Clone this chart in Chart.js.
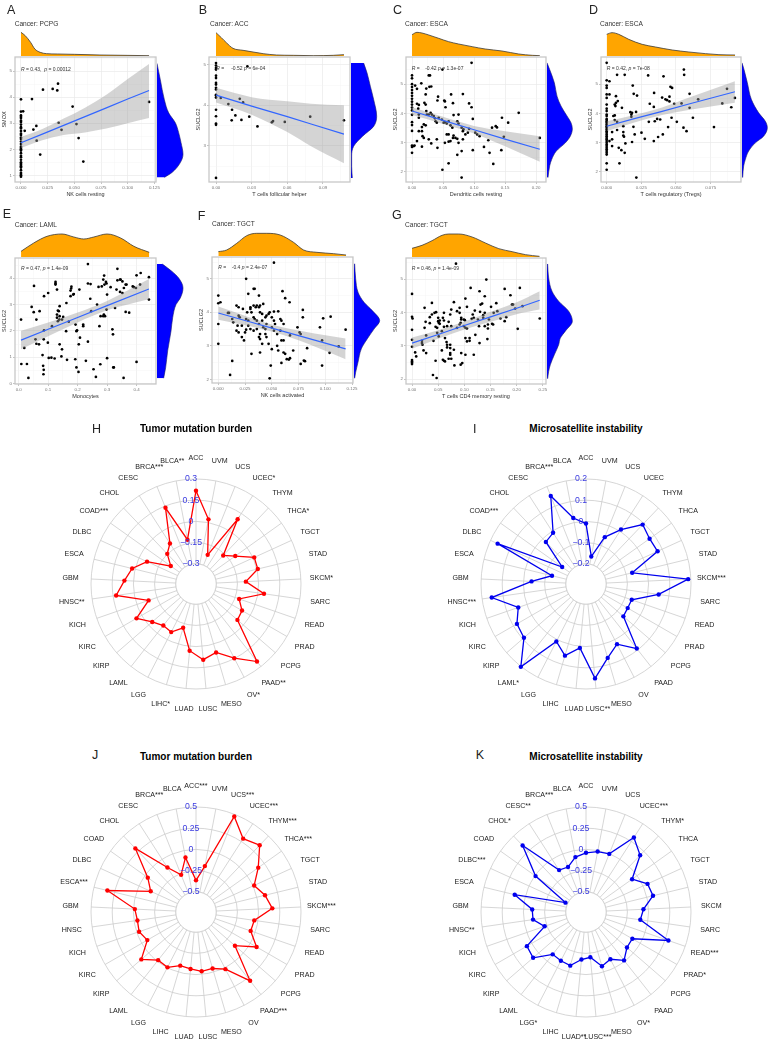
<!DOCTYPE html>
<html><head><meta charset="utf-8">
<script src="https://cdn.jsdelivr.net/npm/chart.js@4/dist/chart.umd.min.js"></script>
<style>
html,body{margin:0;padding:0;background:#fff;overflow:hidden;width:771px;height:1051px}
#page{position:relative;width:771px;height:1051px;overflow:hidden;font-family:"Liberation Sans",Arial,sans-serif}
#page canvas{position:absolute}
.t{position:absolute;white-space:pre;transform:translateY(-50%);z-index:5}
</style></head><body><div id="page"></div>
<script>
/* ---------- scatter data ---------- */
const A_x=[0,0,0,0,0,0,0,0,0,0,0,0,0,0,0,0,0,0,0,0,0,0,0,0,0,0,0,0,0,0,0,0,0,0,0,.002,.0035,.0103,.0116,.0144,.0147,.018,.0206,.0297,.034,.0347,.0353,.038,.0484,.052,.054,.0584,.12];
const A_y=[.95,1,1.05,1.1,1.2,1.3,1.35,1.4,1.45,1.5,1.6,1.7,1.75,1.85,1.95,2,2.05,2.1,2.2,2.3,2.4,2.45,2.55,2.6,2.7,2.8,2.85,2.95,3.05,3.1,3.2,3.25,3.3,3.45,3.92,3.46,2.71,3.93,2.76,2.9,2.33,1.8,4.29,4.32,4.26,4.52,3.02,2.75,3.64,2.97,2.43,1.53,3.82];
const A_bx=[0,.02,.04,.06,.08,.1,.12],A_fit=[2.25,2.585,2.92,3.255,3.59,3.93,4.26],A_up=[2.47,2.78,3.18,3.6,4.1,4.7,5.28],A_lo=[2.05,2.35,2.55,2.65,2.8,3,3.2];
const A_topX=[0,.004,.009,.013,.018,.024,.034,.05,.074,.12],A_topD=[71,61,41,21,11,7,6,5,3,1];
const A_rY=[5.3,4.67,3.91,3.4,3.02,2.64,2.26,1.81,1.49,1.11,.92],A_rD=[0,10,22,35,55,65,72,78,70,45,22];

const B_x=[0,0,0,0,0,0,0,0,0,0,0,0,0,0,0,0,0,0,.004,.0104,.0135,.0132,.0163,.02,.0214,.0228,.028,.0264,.0349,.047,.048,.0579,.0793,.1077];
const B_y=[5.04,4.98,4.92,4.88,4.73,4.67,4.55,4.51,4.43,4.39,4.26,4.24,4.19,3.89,3.73,3.55,3.52,2.21,4.18,4.03,3.89,3.63,3.75,4.16,3.64,4.07,3.72,4.96,3.48,3.58,3.61,3.59,3.72,3.63];
const B_bx=[0,.03,.06,.08,.1077],B_fit=[4.25,3.98,3.72,3.54,3.29],B_up=[4.43,4.2,4.1,4.04,4],B_lo=[4.07,3.77,3.34,2.99,2.57];
const B_topX=[0,.0045,.0087,.0143,.0228,.0312,.0397,.0509,.065,.0818,.0987,.1077],B_topD=[70,55,40,23,17,12,7,3,2,1,2,4];
const B_rY=[5.04,4.8,4.47,4.14,3.73,3.48,3.24,2.99,2.75,2.5,2.21],B_rD=[38,48,58,68,77,68,35,8,2,2,4];

const C_x=[0,0,0,0,0,0,0,0,0,0,0,0,0,0,0,0,0,0,0,.005,.008,.015,.023,.022,.028,.027,.029,.031,.042,.041,.052,.053,.054,.063,.066,.082,.092,.096,.098,.067,.075,.008,.011,.01,.011,.011,.02,.022,.023,.024,.027,.03,.032,.035,.037,.038,.04,.043,.048,.051,.053,.056,.059,.062,.065,.073,.075,.08,.082,.083,.092,.016,.019,.022,.016,.017,.019,.027,.031,.04,.041,.016,.003,.004,.008,.011,.053,.056,.059,.062,.059,.067,.07,.073,.066,.075,.082,.086,.09,.102,.105,.109,.098,.116,.123,.125,.131,.129,.135,.137,.145,.144,.148,.155,.172,.206,.049,.059,.073,.08,.096,.049,.08];
const C_y=[5.3,5.2,5,4.9,4.8,4.7,4.6,4.5,4.4,4.3,4.2,4.1,3.95,3.7,3.6,3.4,2.9,2.85,2.65,4.95,4.84,5.03,4.85,4.65,4.91,5.3,5.3,4.92,4.57,4.44,4.44,4.41,4.21,4.65,4.35,4.66,4.34,4.21,3.81,3.94,3.96,4.33,4.29,4.16,3.96,3.85,4.36,4.3,4.08,3.96,3.96,4.02,3.96,3.91,3.83,3.73,3.68,3.85,3.79,3.68,3.7,3.65,3.73,3.59,3.51,3.73,3.65,3.51,3.39,3.45,3.47,3.53,3.62,3.59,3.39,3.22,3.16,3.11,2.97,3.11,2.82,2.86,2.88,2.9,3.05,3.39,2.99,3.28,3.28,3.05,3.03,3.24,3.16,3.13,3.16,2.99,3.11,3.28,3.34,3.34,3.28,3.22,2.74,2.85,3.08,2.65,2.27,3.51,3.56,3.52,3.85,2.74,3.2,3.68,4.02,3.16,2.07,2.29,2.58,2.71,5.73,5.5,1.8];
const C_bx=[0,.05,.1,.15,.206],C_fit=[4.08,3.76,3.44,3.12,2.77],C_up=[4.21,3.88,3.57,3.39,3.22],C_lo=[3.94,3.64,3.31,2.87,2.34];
const C_topX=[0,.008,.016,.027,.043,.059,.075,.097,.118,.145,.172,.194,.206],C_topD=[64,71,69,63,53,43,36,28,21,15,6,2,1];
const C_rY=[5.73,5.5,5.05,4.59,4.25,3.91,3.68,3.47,3.22,2.99,2.71,2.42,2.2,1.8],C_rD=[0,8,22,30,42,60,72,76,70,55,28,14,8,3];

const D_x=[0,0,0,0,0,0,0,0,0,0,0,0,0,0,0,0,0,0,0,0,0,0,0,0,0,0,0,0,0,0,0,0,0,0,0,0,.002,.0075,.013,.002,.0067,.0067,.008,.0058,.0063,.011,.0058,.0048,.0058,.0075,.0075,.0039,.0039,.002,.0039,.0087,.0106,.013,.012,.012,.012,.0125,.0135,.0092,.0214,.0188,.0195,.0219,.0171,.0183,.0178,.0178,.0212,.0193,.0183,.0202,.0251,.0275,.0299,.0304,.0311,.034,.0342,.0347,.0364,.034,.0371,.0386,.04,.0405,.041,.0424,.0436,.0443,.046,.0472,.0453,.0453,.0468,.0487,.0506,.054,.0554,.0557,.0559,.0576,.0598,.0598,.0622,.066,.0774,.0834,.0868,.0899,.0925];
const D_y=[5.73,5.13,4.95,4.87,4.65,4.53,4.3,4.16,4.08,3.96,3.91,3.81,3.77,3.72,3.68,3.62,3.56,3.51,3.45,3.39,3.34,3.28,3.22,3.16,3.11,3.05,2.99,2.93,2.88,2.82,2.77,2.71,2.65,2.59,2.29,2.07,5.1,5.32,5.32,4.65,4.59,4.36,4.42,4.3,4.25,4.19,3.93,3.91,3.77,3.71,3.43,3.36,3.11,3.05,2.88,2.82,2.74,2.65,3.56,3.36,3.24,3.2,2.97,2.29,1.8,4.95,4.67,4.61,4.04,4.02,3.96,3.88,4.05,3.54,3.02,3.28,3.34,3.13,5.3,3.71,4.33,4.22,4.7,3.73,3.81,3.05,3.19,3.79,4.54,3.28,5.27,4.48,4.45,3.53,4.91,4.87,4.57,4.41,3.85,4.33,3.71,4.34,3.51,5.5,5.32,3.39,4.67,4.19,3.85,4.48,3.53,4.34,4.84,4.21,4.53];
const D_bx=[0,.02,.04,.06,.0925],D_fit=[3.56,3.82,4.07,4.33,4.74],D_up=[3.73,3.94,4.2,4.55,5.1],D_lo=[3.39,3.69,3.94,4.12,4.36];
const D_topX=[0,.0039,.0087,.0159,.0256,.0352,.0473,.0593,.0714,.081,.0926],D_topD=[65,70,65,50,35,27,18,12,7,4,3];
const D_rY=[5.73,5.5,5.05,4.48,4.02,3.73,3.51,3.22,2.99,2.71,2.42,2.2,1.8],D_rD=[0,6,16,28,50,70,76,65,40,20,10,5,2];

const E_x=[.008,.019,.009,.028,.033,.044,.051,.052,.06,.071,.057,.06,.069,.081,.083,.084,.085,.085,.086,.086,.1,.102,.111,.122,.099,.113,.125,.125,.125,.13,.139,.136,.133,.13,.13,.133,.138,.139,.147,.151,.139,.147,.145,.162,.164,.161,.17,.176,.179,.178,.176,.185,.187,.192,.193,.196,.203,.204,.196,.198,.206,.208,.219,.219,.235,.244,.228,.235,.243,.246,.254,.262,.266,.271,.274,.277,.278,.282,.287,.291,.296,.289,.29,.298,.3,.298,.287,.293,.3,.312,.318,.32,.321,.323,.327,.335,.344,.346,.352,.357,.363,.366,.363,.375,.352,.344,.332,.356,.387,.391,.398,.4,.414,.412,.4,.442,.442,.235,.335];
const E_y=[2.43,1.35,.74,.74,.21,2.91,2.71,3.71,2.43,2.75,1.68,1.51,1.49,1.08,.67,.35,.52,1.68,3.32,2.02,3.44,.97,.98,.95,1.55,2.18,3.8,3.86,3.76,3.57,2.94,2.75,2.77,2.62,2.5,2.37,2.43,2.56,2.43,2.53,1.49,1.3,1.03,3.06,.9,1.99,2.35,3.53,3.68,3.61,3.32,3.38,3.4,.92,2.24,.61,.44,1.49,1.99,2.02,3.57,1.74,2.24,2.18,3.8,3.78,.86,1.59,3.22,2.75,.54,.25,3,3.67,2.18,.73,2.56,3.69,3.95,3.76,3.86,2.62,4.1,3.8,.96,2.81,2.56,2.56,3.38,3.66,2.06,1.87,.61,.61,2.87,3.92,3.95,3.95,3.88,3.63,3.76,3.76,2.72,2.69,3.44,3.48,3.57,.21,3.69,3.66,3.63,4.11,4.2,3.76,.82,4.04,3.19,4.54,4.36];
const E_bx=[.008,.1,.2,.3,.442],E_fit=[1.65,2.06,2.51,2.96,3.59],E_up=[2,2.32,2.7,3.14,3.97],E_lo=[1.3,1.8,2.32,2.78,3.2];
const E_topX=[.008,.051,.096,.147,.187,.221,.255,.3,.346,.391,.443],E_topD=[17,42,62,69,60,54,60,69,57,32,14];
const E_rY=[4.54,4.26,4.01,3.63,3.25,3,2.5,1.99,1.24,.61,.2],E_rD=[16,45,65,78,70,57,47,42,32,26,20];

const F_x=[0,0,.002,0,0,.013,.011,.009,.01,.013,.014,.017,.019,.018,.02,.022,.023,.026,.028,.024,.025,.026,.026,.027,.028,.03,.03,.031,.033,.034,.036,.038,.033,.034,.036,.031,.033,.035,.038,.039,.042,.039,.041,.038,.039,.041,.039,.042,.044,.036,.038,.041,.044,.045,.047,.048,.052,.05,.052,.053,.056,.05,.052,.055,.058,.059,.061,.045,.047,.05,.055,.049,.048,.052,.06,.0625,.0666,.067,.058,.059,.061,.056,.059,.061,.0625,.064,.066,.067,.07,.074,.076,.077,.077,.079,.079,.08,.081,.083,.095,.097,.098,.097,.104,.105,.1125,.119,.039,.044,.045,.033,.03,.028,.019,.017,.022,.019];
const F_y=[4.5,4.27,4.3,3.65,3.06,2.55,2.13,3.98,3.98,3.8,3.7,4.2,4.15,3.6,3.85,3.6,4.1,5,4.55,3.16,3.4,3.48,3.8,4,3.75,4.15,4.1,2.76,4.7,4.7,4.2,4.5,3.85,3.8,3.75,4,4.2,4.15,4.15,4.2,4.25,4,3.95,3.26,3.2,3.06,2.8,3.55,3.5,3.5,3.65,3.75,3.85,3.9,3.95,4,4.02,3.85,3.75,3.65,4.03,3.55,3.45,3.35,3.8,3.75,3.65,3.65,3.06,2.9,3,2.41,2.03,5.48,4.63,4.42,4.3,3.31,3.45,3.16,3.16,2.86,2.49,2.8,2.76,2.6,2.59,2.63,2.86,3.55,3.4,3.35,2.46,4.07,3.85,2.56,2.54,2.93,3.55,2.41,3.82,3.16,2.79,3.87,2.98,3.48,3.35,3.35,3.26,3.45,3.5,3.6,3.9,3.45,3.26,3.4];
const F_bx=[0,.03,.06,.09,.119],F_fit=[3.98,3.71,3.44,3.17,2.91],F_up=[4.17,3.84,3.55,3.37,3.22],F_lo=[3.78,3.58,3.33,2.98,2.6];
const F_topX=[0,.0078,.0172,.0266,.0359,.0453,.0578,.0703,.0797,.0922,.1078,.1194],F_topD=[13,18,38,61,68,68,63,41,18,11,7,3];
const F_rY=[5.45,5,4.6,4.3,4.05,3.75,3.5,3.21,2.91,2.51,2.21,2.03],F_rD=[2,5,12,30,55,77,60,40,22,12,5,2];

const G_x=[0,0,.001,0,0,0,0,0,0,0,.006,.008,.019,.019,.02,.022,.027,.024,.026,.024,.027,.034,.034,.038,.038,.041,.043,.046,.045,.048,.045,.04,.047,.05,.05,.051,.053,.048,.051,.053,.057,.059,.061,.061,.061,.059,.061,.063,.063,.067,.057,.066,.067,.067,.07,.073,.075,.08,.075,.073,.073,.073,.073,.07,.075,.081,.08,.086,.086,.091,.091,.094,.094,.099,.101,.091,.093,.094,.093,.096,.099,.102,.102,.102,.102,.105,.105,.105,.11,.11,.112,.114,.118,.118,.116,.12,.121,.126,.128,.129,.13,.129,.131,.134,.136,.136,.139,.139,.139,.142,.144,.145,.145,.147,.151,.153,.155,.156,.161,.163,.169,.177,.177,.18,.188,.191,.193,.197,.202,.206,.211,.244,.084];
const G_y=[4.56,3.87,3.82,3.48,3.18,2.97,2.57,2.53,2.49,2.45,2.8,2.68,3.15,3.08,3.03,2.86,2.78,4.14,3.72,3.54,3.31,3.86,3.68,4.29,3.94,3.15,3.99,4.01,3.57,3.54,2.55,2.12,2.03,3.84,3.74,3.69,3.76,3.39,3.28,3.66,3.44,3.84,3.99,3.76,3.57,2.58,2.55,2.53,3.23,3.59,2.86,3.11,3.03,2.95,3.72,3.94,4.09,4.31,3.59,3.03,2.93,2.78,2.73,2.61,2.61,2.41,2.88,4.04,3.54,4.14,3.99,3.84,3.79,3.79,3.77,3.64,3.69,2.78,2.43,2.48,3.59,4.42,2.73,3.23,3.54,3.52,4.17,3.13,3.23,3.15,4.74,3.81,2.73,3.84,3.94,4.06,3.33,3.79,3.59,4.64,4.02,3.08,4.24,4.27,3.92,3.84,3.99,3.59,4.49,4.99,3.2,3.64,3.52,3.79,4.17,3.66,3.64,3.99,4.28,4.04,3.82,4.71,3.74,3.86,4.52,4.24,4.24,4.12,3.51,4.74,4.19,3.82,5.47];
const G_bx=[0,.05,.1,.15,.2,.244],G_fit=[3.08,3.34,3.61,3.87,4.13,4.37],G_up=[3.25,3.47,3.73,4.02,4.31,4.64],G_lo=[2.91,3.21,3.49,3.72,3.95,4.09];
const G_topX=[0,.0191,.0383,.0574,.0702,.0893,.1148,.1403,.1658,.1913,.2168,.2436],G_topD=[26,35,49,65,69,69,60,42,25,16,7,2];
const G_rY=[5.46,5.04,4.64,4.34,4.04,3.74,3.44,3.23,3.03,2.73,2.43,2.23,2.01],G_rD=[2,5,15,35,65,76,55,40,35,22,10,5,2];

/* ---------- radar data ---------- */
const H_labels=["ACC","UVM","UCS","UCEC*","THYM","THCA*","TGCT","STAD","SKCM*","SARC","READ","PRAD","PCPG","PAAD**","OV*","MESO","LUSC","LUAD","LIHC*","LGG","LAML","KIRP","KIRC","KICH","HNSC**","GBM","ESCA","DLBC","COAD***","CHOL","CESC","BRCA***","BLCA**"];
const I_labels=["ACC","UVM","UCS","UCEC","THYM","THCA","TGCT","STAD","SKCM***","SARC","READ","PRAD","PCPG","PAAD","OV","MESO","LUSC**","LUAD","LIHC","LGG","LAML*","KIRP","KIRC","KICH","HNSC***","GBM","ESCA","DLBC","COAD***","CHOL","CESC","BRCA***","BLCA"];
const J_labels=["ACC***","UVM","UCS***","UCEC***","THYM***","THCA***","TGCT","STAD","SKCM***","SARC","READ","PRAD","PCPG","PAAD***","OV","MESO","LUSC","LUAD","LIHC","LGG","LAML","KIRP","KIRC","KICH","HNSC","GBM","ESCA***","DLBC","COAD","CHOL","CESC","BRCA***","BLCA"];
const K_labels=["ACC","UVM","UCS","UCEC***","THYM*","THCA","TGCT","STAD","SKCM","SARC","READ***","PRAD*","PCPG","PAAD","OV*","MESO","LUSC***","LUAD**","LIHC","LGG*","LAML","KIRP","KIRC","KICH","HNSC**","GBM","ESCA","DLBC***","COAD","CHOL*","CESC**","BRCA***","BLCA"];
const H_vals=[.217,.023,-.221,.102,-.164,-.102,.01,.007,-.09,.043,-.12,-.067,-.055,.255,.148,.062,.095,.031,-.12,-.06,-.069,-.033,.043,-.088,.128,.064,.022,-.062,-.224,-.148,-.102,.138,-.124];
const I_vals=[-.01,-.163,-.057,.01,.092,.073,.076,-.071,.187,.051,-.067,-.068,-.062,.092,.024,.068,.152,.008,.057,.01,.202,.092,.081,.043,.154,-.038,-.13,.163,-.157,-.021,-.008,.152,.022];
const J_vals=[-.365,-.187,.476,.29,.35,.163,.016,.099,.163,-.044,-.056,.087,-.131,.294,.02,-.044,-.036,-.063,-.079,-.004,-.016,.115,-.075,-.028,-.04,-.016,.337,-.151,-.04,.298,-.115,-.266,-.083];
const K_vals=[-.04,-.012,0,.306,.187,-.071,.06,.075,-.06,-.091,.29,-.107,-.099,-.012,-.111,-.071,-.202,-.175,-.079,-.091,-.103,.087,.067,-.222,-.107,-.103,.127,-.472,-.008,.345,-.151,-.167,-.079];
const H_ticks=[-.3,-.15,0,.15,.3],H_tickText=["\u22120.3","\u22120.15","0","0.15","0.3"];
const I_ticks=[-.2,-.1,0,.1,.2],I_tickText=["\u22120.2","\u22120.1","0","0.1","0.2"];
const J_ticks=[-.5,-.25,0,.25,.5],J_tickText=["\u22120.5","\u22120.25","0","0.25","0.5"];

/* ---------- helpers ---------- */
const FONT='"Liberation Sans",Arial,sans-serif';
const page=document.getElementById('page');
function ctxAt(x,y,w,h){const c=document.createElement('canvas');c.width=w;c.height=h;c.style.cssText=`left:${x}px;top:${y}px;width:${w}px;height:${h}px`;page.appendChild(c);return c;}
function text(s,x,y,size,color,weight,center){const d=document.createElement('div');d.className='t';d.innerHTML=s;
 d.style.cssText=`left:${x}px;top:${y}px;font-size:${size}px;color:${color};font-weight:${weight||'normal'};`+(center?'transform:translate(-50%,-50%);':'');page.appendChild(d);}
const pts=(xs,ys)=>xs.map((x,i)=>({x,y:ys[i]}));
function tickList(major,min,max){const step=major[1]-major[0],out=[];
 for(let i=-1;i<=major.length;i++){const v=major[0]+i*step;
  if(i>=0&&i<major.length)out.push({value:major[i],major:true});
  const m=v+step/2;if(m>min&&m<max)out.push({value:m,major:false});}
 return out.sort((a,b)=>a.value-b.value);}
function axis(major,dec,min,max,title,fix){return {type:'linear',min,max,
 afterBuildTicks:s=>{s.ticks=tickList(major,min,max);},
 afterFit:fix,
 title:{display:true,text:title,color:'#333',font:{size:5.5,family:FONT},padding:{top:0,bottom:1}},
 ticks:{autoSkip:false,maxRotation:0,minRotation:0,padding:1,color:'#777',font:{size:4.4,family:FONT},
  callback:v=>major.some(m=>Math.abs(m-v)<1e-9)?v.toFixed(dec):''},
 border:{display:false},
 grid:{tickLength:2,
  color:c=>c.tick&&c.tick.major?'#e9e9e9':'#f3f3f3',
  lineWidth:c=>c.tick&&c.tick.major?.7:.4,
  tickColor:c=>c.tick&&c.tick.major?'#888':'rgba(0,0,0,0)',tickWidth:.5}};}
const frame={id:'frame',afterDraw(ch){const a=ch.chartArea,c=ch.ctx;c.save();c.strokeStyle='#c8c8c8';c.lineWidth=1.3;c.strokeRect(a.left,a.top,a.right-a.left,a.bottom-a.top);c.restore();}};
const off={legend:{display:false},tooltip:{enabled:false},title:{display:false}};

function scatterPanel(o){
 const L=14,B=17,T=4,R=8;
 const X=Math.round(o.px),Y=Math.round(o.py),W=Math.round(o.pw),H=Math.round(o.ph);
 new Chart(ctxAt(X-L,Y-T,W+L+R,H+T+B),{type:'line',
  data:{datasets:[
   {data:pts(o.bx,o.fit),borderColor:'#3366ff',borderWidth:1.2,pointRadius:0,fill:false},
   {data:pts(o.bx,o.up),borderWidth:0,borderColor:'rgba(0,0,0,0)',pointRadius:0,fill:'+1',backgroundColor:'rgba(153,153,153,.42)',cubicInterpolationMode:'monotone'},
   {data:pts(o.bx,o.lo),borderWidth:0,borderColor:'rgba(0,0,0,0)',pointRadius:0,fill:false,cubicInterpolationMode:'monotone'},
   {data:pts(o.x,o.y),showLine:false,pointRadius:1.35,pointBackgroundColor:'#000',pointBorderWidth:0}
  ]},
  options:{responsive:false,animation:false,devicePixelRatio:1,layout:{padding:{top:T,right:R,left:0,bottom:0}},plugins:off,
   scales:{x:axis(o.xt,o.xd,o.xmin,o.xmax,o.xl,s=>{s.height=B;}),y:axis(o.yt,0,o.ymin,o.ymax,o.yl,s=>{s.width=L;})}},
  plugins:[frame]});
 // top marginal density
 const TH=26;
 new Chart(ctxAt(X,Y-TH-1,W,TH),{type:'line',
  data:{datasets:[{data:pts(o.tx,o.td),backgroundColor:'#ffa500',borderColor:'#3a3a3a',borderWidth:.8,pointRadius:0,fill:'origin',cubicInterpolationMode:'monotone'}]},
  options:{responsive:false,animation:false,devicePixelRatio:1,plugins:off,
   scales:{x:{type:'linear',min:o.xmin,max:o.xmax,display:false},y:{min:0,max:78,display:false}}}});
 // right marginal density
 const RW=27;
 new Chart(ctxAt(X+W+1,Y,RW,H),{type:'line',
  data:{datasets:[{data:pts(o.rd,o.ry),backgroundColor:'#0000ff',borderColor:'#1a1a66',borderWidth:.6,pointRadius:0,fill:'origin',cubicInterpolationMode:'monotone'}]},
  options:{indexAxis:'y',responsive:false,animation:false,devicePixelRatio:1,plugins:off,
   scales:{x:{type:'linear',min:0,max:81,display:false},y:{type:'linear',min:o.ymin,max:o.ymax,display:false}}}});
 text(o.title,o.tix,o.tiy,6.6,'#333');
 text(o.note,o.nx,o.ny,5,'#333');
}

function radar(o){
 const W=330,Hh=300,Rad=105,lr=(W-2*Rad)/2,tb=(Hh-2*Rad)/2;
 const lows=o.min;
 const deco={id:'deco',
  beforeDatasetsDraw(ch){const s=ch.scales.r,c=ch.ctx,r=s.getDistanceFromCenterForValue(o.ticks[0]);
   c.save();c.beginPath();c.arc(s.xCenter,s.yCenter,r,0,Math.PI*2);c.fillStyle='#fff';c.fill();c.strokeStyle='#cbcbcb';c.lineWidth=.8;c.stroke();c.restore();},
  afterDraw(ch){const s=ch.scales.r,c=ch.ctx;c.save();c.textAlign='center';c.textBaseline='middle';
   c.font=`7.1px ${FONT}`;c.fillStyle='#222';
   ch.data.labels.forEach((l,i)=>{const p=s.getPointPosition(i,s.drawingArea*1.195);c.fillText(l,p.x,p.y);});
   c.font=`8.7px ${FONT}`;c.fillStyle='#3a3ae0';
   o.ticks.forEach((v,i)=>{const d=s.getDistanceFromCenterForValue(v);c.fillText(o.tickText[i],s.xCenter-5,s.yCenter-d);});
   c.restore();}};
 new Chart(ctxAt(Math.round(o.cx-W/2),Math.round(o.cy-Hh/2),W,Hh),{type:'radar',
  data:{labels:o.labels,datasets:[{data:o.vals,borderColor:o.color,backgroundColor:o.color,borderWidth:1.3,pointRadius:2.2,pointBackgroundColor:o.color,pointBorderWidth:0,fill:false,tension:0}]},
  options:{responsive:false,animation:false,devicePixelRatio:1,layout:{padding:{left:lr,right:lr,top:tb,bottom:tb}},plugins:off,
   scales:{r:{min:lows,max:o.ticks[o.ticks.length-1],
    afterBuildTicks:s=>{s.ticks=[{value:lows}].concat(o.ticks.map(v=>({value:v})));},
    ticks:{display:false},pointLabels:{display:false},
    grid:{circular:true,color:'#cbcbcb',lineWidth:.8},angleLines:{display:true,color:'#cbcbcb',lineWidth:.8}}}},
  plugins:[deco]});
 text(o.title,o.cx,o.ty,10,'#000','bold',true);
}

/* ---------- panels ---------- */
const Ri='<i>R</i>',Pi='<i>p</i>';
scatterPanel({px:14.7,py:57.3,pw:140.6,ph:125.4,xmin:-.0056,xmax:.1265,ymin:.745,ymax:5.545,xt:[0,.025,.05,.075,.1,.125],xd:3,yt:[1,2,3,4,5],xl:'NK cells resting',yl:'SMOX',x:A_x,y:A_y,bx:A_bx,fit:A_fit,up:A_up,lo:A_lo,tx:A_topX,td:A_topD,ry:A_rY,rd:A_rD,title:'Cancer: PCPG',tix:14.7,tiy:23.3,note:`${Ri} = 0.43,  ${Pi} = 0.00012`,nx:21,ny:68.7});
scatterPanel({px:209.3,py:57.3,pw:140.7,ph:125.4,xmin:-.0059,xmax:.1128,ymin:2.11,ymax:5.19,xt:[0,.03,.06,.09],xd:2,yt:[3,4,5],xl:'T cells follicular helper',yl:'SUCLG2',x:B_x,y:B_y,bx:B_bx,fit:B_fit,up:B_up,lo:B_lo,tx:B_topX,td:B_topD,ry:B_rY,rd:B_rD,title:'Cancer: ACC',tix:210,tiy:23.3,note:`${Ri} =     -0.52 ${Pi} = 6e-04`,nx:216.3,ny:67.7});
scatterPanel({px:405.7,py:57.3,pw:140,ph:125.4,xmin:-.0097,xmax:.216,ymin:1.65,ymax:5.93,xt:[0,.05,.1,.15,.2],xd:2,yt:[2,3,4,5],xl:'Dendritic cells resting',yl:'SUCLG2',x:C_x,y:C_y,bx:C_bx,fit:C_fit,up:C_up,lo:C_lo,tx:C_topX,td:C_topD,ry:C_rY,rd:C_rD,title:'Cancer: ESCA',tix:405,tiy:23.3,note:`${Ri} =    -0.42 ${Pi} = 1.3e-07`,nx:411.7,ny:67.7});
scatterPanel({px:600.7,py:57.3,pw:139.6,ph:125.4,xmin:-.0041,xmax:.0969,ymin:1.65,ymax:5.93,xt:[0,.025,.05,.075],xd:3,yt:[2,3,4,5],xl:'T cells regulatory (Tregs)',yl:'SUCLG2',x:D_x,y:D_y,bx:D_bx,fit:D_fit,up:D_up,lo:D_lo,tx:D_topX,td:D_topD,ry:D_rY,rd:D_rD,title:'Cancer: ESCA',tix:600,tiy:23.3,note:`${Ri} = 0.42, ${Pi} = 7e-08`,nx:606.7,ny:67.7});
scatterPanel({px:14.7,py:258.3,pw:140.6,ph:126,xmin:-.0125,xmax:.466,ymin:-.02,ymax:4.77,xt:[0,.1,.2,.3,.4],xd:1,yt:[0,1,2,3,4],xl:'Monocytes',yl:'SUCLG2',x:E_x,y:E_y,bx:E_bx,fit:E_fit,up:E_up,lo:E_lo,tx:E_topX,td:E_topD,ry:E_rY,rd:E_rD,title:'Cancer: LAML',tix:14.7,tiy:224.3,note:`${Ri} = 0.47, ${Pi} = 1.4e-09`,nx:21,ny:268.3});
scatterPanel({px:212,py:256.7,pw:140.7,ph:125.6,xmin:-.0059,xmax:.1259,ymin:1.89,ymax:5.65,xt:[0,.025,.05,.075,.1,.125],xd:3,yt:[2,3,4,5],xl:'NK cells activated',yl:'SUCLG2',x:F_x,y:F_y,bx:F_bx,fit:F_fit,up:F_up,lo:F_lo,tx:F_topX,td:F_topD,ry:F_rY,rd:F_rD,title:'Cancer: TGCT',tix:212,tiy:222.7,note:`${Ri} =    -0.4 ${Pi} = 2.4e-07`,nx:218.3,ny:267});
scatterPanel({px:405.7,py:258.3,pw:140,ph:126,xmin:-.0115,xmax:.256,ymin:1.85,ymax:5.64,xt:[0,.05,.1,.15,.2,.25],xd:2,yt:[2,3,4,5],xl:'T cells CD4 memory resting',yl:'SUCLG2',x:G_x,y:G_y,bx:G_bx,fit:G_fit,up:G_up,lo:G_lo,tx:G_topX,td:G_topD,ry:G_rY,rd:G_rD,title:'Cancer: TGCT',tix:405,tiy:224,note:`${Ri} = 0.46, ${Pi} = 1.4e-09`,nx:411.7,ny:268.3});

radar({cx:196,cy:584,ty:427.7,title:'Tumor mutation burden',labels:H_labels,vals:H_vals,color:'#ff0000',ticks:H_ticks,tickText:H_tickText,min:-.443});
radar({cx:586,cy:584,ty:427.7,title:'Microsatellite instability',labels:I_labels,vals:I_vals,color:'#0000ee',ticks:I_ticks,tickText:I_tickText,min:-.295});
radar({cx:196,cy:912,ty:755.7,title:'Tumor mutation burden',labels:J_labels,vals:J_vals,color:'#ff0000',ticks:J_ticks,tickText:J_tickText,min:-.738});
radar({cx:586,cy:912,ty:755.7,title:'Microsatellite instability',labels:K_labels,vals:K_vals,color:'#0000ee',ticks:J_ticks,tickText:J_tickText,min:-.738});

/* ---------- panel letters ---------- */
[['A',7,10],['B',198.7,10],['C',393,10],['D',589,10],['E',2.7,214],['F',197.7,215.5],['G',392,214.5],['H',92,429],['I',473,429],['J',92,755],['K',475.7,755]]
 .forEach(l=>text(l[0],l[1],l[2],12.5,'#222'));
</script></body></html>
